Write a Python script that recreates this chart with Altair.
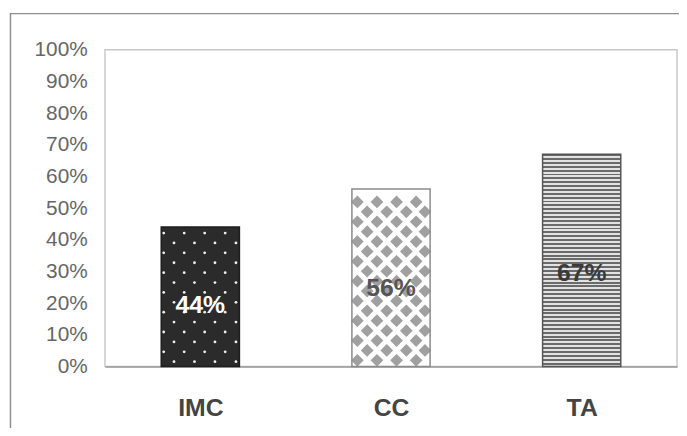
import json
import altair as alt
import pandas as pd

# ---- data ----
categories = ["IMC", "CC", "TA"]
values = [44, 56, 67]
labels = ["44%", "56%", "67%"]
y_ticks = [0, 10, 20, 30, 40, 50, 60, 70, 80, 90, 100]

# ---- layout / style constants ----
W, H = 578, 320
STEP_PX = W / 3.0           # one category step in pixels
BAND = 0.41                 # bar width as fraction of a step
PX_PER_PCT = H / 100.0
FONT = "Liberation Sans"

df = pd.DataFrame({
    "cat": categories,
    "idx": list(range(len(categories))),
    "value": values,
    "label": labels,
})
df["x1"] = df["idx"] - BAND / 2
df["x2"] = df["idx"] + BAND / 2
df["ylab"] = df["value"] * 0.44


def texture(i, top_gap_px, row_px, offs_a, offs_b):
    """Decorative fill texture for bar i (positions in data units)."""
    rows = []
    left = i - BAND / 2
    y = values[i] - top_gap_px / PX_PER_PCT
    k = 0
    while y > 0.8:
        offs = offs_a if k % 2 == 0 else offs_b
        for o in offs:
            rows.append({"x": left + o / STEP_PX, "y": y})
        y -= row_px / PX_PER_PCT
        k += 1
    return pd.DataFrame(rows)


dots = texture(0, 6, 10, [2.5, 23.2, 43.9, 64.6], [12.9, 33.6, 54.3, 75.5])
diamonds = texture(1, 13, 10, [5.5, 25.3, 45.1, 64.9], [15.4, 35.2, 55.0, 73.8])

label_expr = json.dumps(categories) + "[datum.value]"

x_scale = alt.Scale(domain=[-0.5, 2.5], nice=False, zero=False)
y_scale = alt.Scale(domain=[0, 100], nice=False)

x_axis = alt.Axis(
    values=[0, 1, 2], labelExpr=label_expr, title=None, grid=False, ticks=False,
    domainColor="#9a9a9a", domainWidth=1.5, labelFont=FONT, labelFontSize=25,
    labelFontWeight="bold", labelColor="#444444", labelPadding=30, labelAngle=0,
)
y_axis = alt.Axis(
    values=y_ticks, labelExpr="datum.value + '%'", title=None, grid=False,
    ticks=False, domain=False, labelFont=FONT, labelFontSize=21,
    labelColor="#666666", labelPadding=18,
)

base = alt.Chart(df)

frame = alt.Chart(alt.Data(values=[{"a": 1}])).mark_rect(
    fillOpacity=0, stroke="#8f8f8f", strokeWidth=1.5
).encode(
    x=alt.value(-95.5), x2=alt.value(700), y=alt.value(-36.5), y2=alt.value(600)
)

bars = base.mark_bar(strokeWidth=1.5).encode(
    x=alt.X("x1:Q", scale=x_scale, axis=x_axis),
    x2="x2:Q",
    y=alt.Y("value:Q", scale=y_scale, axis=y_axis),
    y2=alt.datum(0),
    fill=alt.Fill("cat:N", scale=alt.Scale(domain=categories,
                  range=["#2b2b2b", "#ffffff", "#ffffff"]), legend=None),
)

stops = []
N = 55
for j in range(N):
    stops += [
        alt.GradientStop(offset=j / N, color="#6a6a6a"),
        alt.GradientStop(offset=(j + 0.5) / N, color="#6a6a6a"),
        alt.GradientStop(offset=(j + 0.5) / N, color="#e2e2e2"),
        alt.GradientStop(offset=(j + 1) / N, color="#e2e2e2"),
    ]
stripes = base.transform_filter(alt.datum.cat == "TA").mark_bar(
    color=alt.Gradient(gradient="linear", x1=0, x2=0, y1=0, y2=1, stops=stops)
).encode(
    x=alt.X("x1:Q", scale=x_scale, axis=x_axis),
    x2="x2:Q",
    y=alt.Y("value:Q", scale=y_scale, axis=y_axis),
    y2=alt.datum(0),
)

dot_layer = alt.Chart(dots).mark_point(
    shape="circle", filled=True, size=8, color="#eeeeee", opacity=1
).encode(
    x=alt.X("x:Q", scale=x_scale, axis=x_axis),
    y=alt.Y("y:Q", scale=y_scale, axis=y_axis),
)

diamond_layer = alt.Chart(diamonds).mark_point(
    shape="diamond", filled=True, size=165, color="#a0a0a0", opacity=1
).encode(
    x=alt.X("x:Q", scale=x_scale, axis=x_axis),
    y=alt.Y("y:Q", scale=y_scale, axis=y_axis),
)

borders = base.mark_bar(fillOpacity=0, strokeWidth=1.5).encode(
    x=alt.X("x1:Q", scale=x_scale, axis=x_axis),
    x2="x2:Q",
    y=alt.Y("value:Q", scale=y_scale, axis=y_axis),
    y2=alt.datum(0),
    stroke=alt.Stroke("cat:N", scale=alt.Scale(domain=categories,
                      range=["#1e1e1e", "#8a8a8a", "#555555"]), legend=None),
)

text = base.mark_text(
    font=FONT, fontSize=25, fontWeight="bold", baseline="middle", align="center"
).encode(
    x=alt.X("idx:Q", scale=x_scale, axis=x_axis),
    y=alt.Y("ylab:Q", scale=y_scale, axis=y_axis),
    text="label:N",
    color=alt.Color("cat:N", scale=alt.Scale(domain=categories,
                    range=["#ffffff", "#555555", "#3a3a3a"]), legend=None),
)

chart = alt.layer(
    frame, bars, stripes, dot_layer, diamond_layer, borders, text
).resolve_scale(
    fill="independent", stroke="independent", color="independent"
).properties(
    width=W, height=H,
    autosize=alt.AutoSizeParams(type="none"),
    padding={"left": 98, "top": 40, "right": 2, "bottom": 60},
    background="white",
).configure_view(
    stroke="#c8c8c8", strokeWidth=1.5
)

chart.save("out.html", embed_options={"renderer": "svg", "actions": False})
